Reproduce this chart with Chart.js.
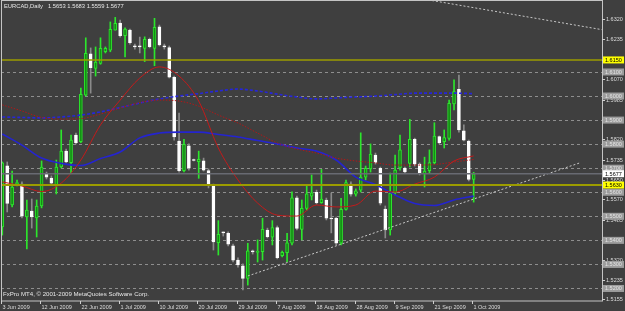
<!DOCTYPE html>
<html>
<head>
<meta charset="utf-8">
<script src="https://cdn.jsdelivr.net/npm/chart.js@4.4.1/dist/chart.umd.min.js"></script>
<style>
html, body { margin: 0; padding: 0; background: #3f3f3f; }
canvas { display: block; }
</style>
</head>
<body>
<canvas id="chart" width="625" height="311"></canvas>
<script>
// daily candles, EURCAD, 3 Jun 2009 .. 1 Oct 2009
const opens = [1.5456,1.5710,1.5547,1.5636,1.5634,1.5498,1.5522,1.5493,1.5543,1.5676,
  1.5659,1.5630,1.5705,1.5771,1.5723,1.5838,1.5810,1.6004,1.6175,1.6115,
  1.6136,1.6184,1.6191,1.6274,1.6303,1.6251,1.6274,1.6206,1.6208,1.6198,
  1.6236,1.6198,1.6288,1.6208,1.6201,1.6078,1.5813,1.5690,1.5793,1.5736,
  1.5727,1.5731,1.5690,1.5633,1.5390,1.5433,1.5429,1.5377,1.5318,1.5294,
  1.5242,1.5354,1.5350,1.5353,1.5443,1.5413,1.5453,1.5336,1.5349,1.5388,
  1.5577,1.5446,1.5533,1.5584,1.5600,1.5557,1.5568,1.5493,1.5492,1.5388,
  1.5529,1.5634,1.5592,1.5609,1.5663,1.5697,1.5755,1.5699,1.5530,1.5443,
  1.5597,1.5701,1.5701,1.5720,1.5820,1.5717,1.5676,1.5690,1.5723,1.5831,
  1.5810,1.5824,1.5967,1.6028,1.5855,1.5813,1.5653];
const highs = [1.5726,1.5726,1.5688,1.5651,1.5643,1.5568,1.5572,1.5568,1.5730,1.5684,
  1.5668,1.5734,1.5859,1.5780,1.5838,1.5846,1.6033,1.6242,1.6200,1.6204,
  1.6242,1.6204,1.6308,1.6327,1.6316,1.6283,1.6278,1.6216,1.6245,1.6246,
  1.6241,1.6323,1.6295,1.6216,1.6208,1.6083,1.5929,1.5820,1.5801,1.5738,
  1.5771,1.5742,1.5697,1.5634,1.5482,1.5435,1.5435,1.5385,1.5327,1.5302,
  1.5388,1.5360,1.5402,1.5492,1.5451,1.5482,1.5460,1.5356,1.5429,1.5602,
  1.5584,1.5568,1.5630,1.5672,1.5609,1.5695,1.5576,1.5597,1.5497,1.5575,
  1.5651,1.5643,1.5614,1.5847,1.5709,1.5801,1.5763,1.5705,1.5543,1.5680,
  1.5755,1.5838,1.5705,1.5903,1.5825,1.5722,1.5746,1.5776,1.5889,1.5834,
  1.5859,1.5983,1.6067,1.6087,1.5880,1.5817,1.5683];
const lows = [1.5422,1.5518,1.5539,1.5626,1.5493,1.5364,1.5451,1.5414,1.5535,1.5655,
  1.5630,1.5593,1.5701,1.5722,1.5680,1.5801,1.5806,1.6000,1.6012,1.6083,
  1.6132,1.6179,1.6184,1.6274,1.6245,1.6163,1.6216,1.6195,1.6179,1.6143,
  1.6200,1.6126,1.6208,1.6195,1.6075,1.5817,1.5684,1.5685,1.5692,1.5730,
  1.5658,1.5688,1.5618,1.5360,1.5339,1.5418,1.5377,1.5310,1.5289,1.5194,
  1.5214,1.5343,1.5310,1.5318,1.5410,1.5381,1.5323,1.5331,1.5311,1.5381,
  1.5443,1.5402,1.5526,1.5568,1.5551,1.5554,1.5485,1.5431,1.5381,1.5381,
  1.5526,1.5584,1.5584,1.5601,1.5651,1.5684,1.5717,1.5547,1.5410,1.5422,
  1.5589,1.5692,1.5680,1.5705,1.5709,1.5672,1.5622,1.5680,1.5717,1.5801,
  1.5784,1.5817,1.5942,1.5850,1.5813,1.5647,1.5559];
const closes = [1.5722,1.5554,1.5622,1.5638,1.5501,1.5526,1.5497,1.5543,1.5705,1.5663,
  1.5638,1.5705,1.5771,1.5726,1.5817,1.5806,1.6007,1.6177,1.6118,1.6141,
  1.6198,1.6198,1.6277,1.6302,1.6251,1.6278,1.6222,1.6204,1.6204,1.6236,
  1.6205,1.6286,1.6212,1.6204,1.6078,1.5830,1.5690,1.5799,1.5700,1.5732,
  1.5737,1.5692,1.5633,1.5394,1.5425,1.5431,1.5384,1.5318,1.5298,1.5242,
  1.5357,1.5352,1.5354,1.5446,1.5415,1.5453,1.5328,1.5350,1.5390,1.5577,
  1.5450,1.5533,1.5593,1.5598,1.5557,1.5572,1.5492,1.5489,1.5388,1.5529,
  1.5640,1.5592,1.5606,1.5663,1.5699,1.5759,1.5724,1.5555,1.5443,1.5597,
  1.5692,1.5776,1.5685,1.5820,1.5717,1.5680,1.5688,1.5723,1.5834,1.5806,
  1.5827,1.5970,1.6018,1.5859,1.5817,1.5653,1.5677];

// moving averages read every 4 bars
const maBars = [0,4,8,12,16,20,24,28,32,36,40,44,48,52,56,60,64,68,72,76,80,84,88,92,96];
const maRed = [1.5643,1.5626,1.5603,1.5638,1.5734,1.5880,1.5983,1.6075,1.6121,1.6083,
  1.5979,1.5784,1.5651,1.5555,1.5505,1.5501,1.5547,1.5539,1.5547,1.5605,
  1.5601,1.5634,1.5663,1.5730,1.5751];
const maRedDot = [1.5963,1.5938,1.5911,1.5904,1.5906,1.5925,1.5950,1.5973,1.5983,1.5979,
  1.5958,1.5921,1.5888,1.5846,1.5805,1.5780,1.5763,1.5742,1.5730,1.5722,
  1.5713,1.5713,1.5715,1.5726,1.5736];
const maBlue = [1.5842,1.5796,1.5742,1.5720,1.5711,1.5740,1.5767,1.5826,1.5846,1.5850,
  1.5850,1.5840,1.5830,1.5815,1.5801,1.5784,1.5771,1.5734,1.5663,1.5632,
  1.5589,1.5553,1.5545,1.5568,1.5584];
const maBlueDash = [1.5913,1.5911,1.5909,1.5913,1.5921,1.5934,1.5952,1.5971,1.5988,1.6000,
  1.6010,1.6021,1.6029,1.6021,1.6008,1.5996,1.5988,1.5992,1.5996,1.6000,
  1.6006,1.6012,1.6012,1.6012,1.6010];

// trend lines (bar, price)
const trendLow = [[50.0, 1.5252], [117.6, 1.5722]];
const trendHigh = [[87.5, 1.6397], [122.1, 1.6276]];

const dateBars = [0,8,16,24,32,40,48,56,64,72,80,88,96];
const dateLabels = ["3 Jun 2009","12 Jun 2009","22 Jun 2009","1 Jul 2009","10 Jul 2009",
  "20 Jul 2009","29 Jul 2009","7 Aug 2009","18 Aug 2009","28 Aug 2009",
  "9 Sep 2009","21 Sep 2009","1 Oct 2009"];
const priceTicks = [1.6320,1.6235,1.6150,1.6070,1.5985,1.5905,1.5820,1.5735,
  1.5650,1.5570,1.5485,1.5405,1.5320,1.5235,1.5155];
const levels = [1.61,1.60,1.59,1.58,1.57,1.56,1.55,1.54,1.53,1.52];
const yellowLevels = [1.6150, 1.5630];
const bidPrice = 1.5677;

const BG = "#3f3f3f";
const bars = opens.map((o, i) => i);
const isUp = bars.map(i => closes[i] >= opens[i]);

const mtPlugin = {
    id: "mt",
    beforeDraw(chart) {
        const ctx = chart.ctx;
        ctx.save();
        ctx.fillStyle = BG;
        ctx.fillRect(0, 0, chart.width, chart.height);
        ctx.restore();
    },
    beforeDatasetsDraw(chart) {
        const { ctx, chartArea: a } = chart;
        const y = chart.scales.y;
        ctx.save();
        ctx.strokeStyle = "#8e8e8e";
        ctx.lineWidth = 1;
        ctx.setLineDash([3, 3]);
        levels.forEach(v => {
            const py = Math.round(y.getPixelForValue(v)) + 0.5;
            ctx.beginPath(); ctx.moveTo(a.left, py); ctx.lineTo(a.right, py); ctx.stroke();
        });
        ctx.restore();
    },
    afterDatasetsDraw(chart) {
        const { ctx, chartArea: a } = chart;
        const x = chart.scales.x, y = chart.scales.y;
        ctx.save();
        // bid line
        ctx.strokeStyle = "#686a72";
        ctx.lineWidth = 1.5;
        let py = y.getPixelForValue(bidPrice);
        ctx.beginPath(); ctx.moveTo(a.left, py); ctx.lineTo(a.right, py); ctx.stroke();
        // yellow levels
        ctx.strokeStyle = "#9c9c00";
        yellowLevels.forEach((v, k) => {
            ctx.lineWidth = k === 0 ? 1.5 : 2;
            const p = y.getPixelForValue(v);
            ctx.beginPath(); ctx.moveTo(a.left, p); ctx.lineTo(a.right, p); ctx.stroke();
        });
        // frame
        ctx.strokeStyle = "#c4c4c4";
        ctx.lineWidth = 1;
        ctx.strokeRect(a.left + 0.5, a.top - 0.5, a.right - a.left, a.bottom - a.top + 0.5);

        // price scale
        ctx.font = "5.5px 'Liberation Sans', Arial, sans-serif";
        ctx.textBaseline = "middle";
        ctx.textAlign = "left";
        priceTicks.forEach(v => {
            const p = Math.round(y.getPixelForValue(v)) + 0.5;
            ctx.strokeStyle = "#d0d0d0";
            ctx.beginPath(); ctx.moveTo(a.right, p); ctx.lineTo(a.right + 3, p); ctx.stroke();
            ctx.fillStyle = "#dcdcdc";
            ctx.fillText(v.toFixed(4), a.right + 4, p);
        });
        const box = (v, bg, fg) => {
            const p = y.getPixelForValue(v);
            ctx.fillStyle = bg;
            ctx.fillRect(a.right + 1, p - 3.5, 21, 7);
            ctx.fillStyle = fg;
            ctx.fillText(v.toFixed(4), a.right + 3, p + 0.3);
        };
        levels.forEach(v => box(v, "#9c9c9c", "#e4e4e4"));
        box(bidPrice, "#ffffff", "#000000");
        yellowLevels.forEach(v => box(v, "#ffff00", "#000000"));

        // time scale
        dateBars.forEach((b, k) => {
            const px = Math.round(x.getPixelForValue(b) - 1.3) + 0.5;
            ctx.strokeStyle = "#d0d0d0";
            ctx.beginPath(); ctx.moveTo(px, a.bottom); ctx.lineTo(px, a.bottom + 3); ctx.stroke();
            ctx.fillStyle = "#dcdcdc";
            ctx.fillText(dateLabels[k], px + 1, a.bottom + 6);
        });

        // captions
        ctx.fillStyle = "#e6e6e6";
        ctx.font = "5.8px 'Liberation Sans', Arial, sans-serif";
        ctx.fillText("EURCAD,Daily", 4, 6.5);
        ctx.fillText("1.5653 1.5683 1.5559 1.5677", 48, 6.5);
        ctx.font = "6.1px 'Liberation Sans', Arial, sans-serif";
        ctx.fillText("FxPro MT4, \u00a9 2001-2009 MetaQuotes Software Corp.", 3, 294.5);
        ctx.restore();
    },
};

const maLine = (vals, color, width, dash) => ({
    type: "line",
    data: maBars.map((b, k) => ({ x: b, y: vals[k] })),
    borderColor: color,
    borderWidth: width,
    borderDash: dash,
    pointRadius: 0,
    cubicInterpolationMode: "monotone",
    order: 0,
});
const trend = pts => ({
    type: "line",
    data: pts.map(p => ({ x: p[0], y: p[1] })),
    borderColor: "#c8c8c8",
    borderWidth: 1,
    borderDash: [2, 2],
    pointRadius: 0,
    order: 0,
});

new Chart(document.getElementById("chart"), {
    type: "bar",
    data: {
        datasets: [
            maLine(maRed, "#c41a1a", 1, []),
            maLine(maRedDot, "#b01818", 1, [1.5, 1.5]),
            maLine(maBlue, "#2424d0", 1.6, []),
            maLine(maBlueDash, "#2626d8", 1.6, [3, 2]),
            trend(trendLow),
            trend(trendHigh),
            {
                // candle bodies
                data: bars.map(i => ({ x: i, y: [opens[i], closes[i]] })),
                backgroundColor: bars.map(i => isUp[i] ? "#158c15" : "#ffffff"),
                borderColor: bars.map(i => isUp[i] ? "#2ce62c" : "#ffffff"),
                borderWidth: 1,
                borderSkipped: false,
                barThickness: 3,
                minBarLength: 1,
                grouped: false,
                order: 1,
            },
            {
                // wicks
                data: bars.map(i => ({ x: i, y: [lows[i], highs[i]] })),
                backgroundColor: bars.map(i => isUp[i] ? "#2ce62c" : "#8a8a8a"),
                borderWidth: 0,
                barThickness: 1,
                grouped: false,
                order: 2,
            },
        ],
    },
    options: {
        responsive: false,
        animation: false,
        layout: { padding: { left: 1, right: 23, top: 1, bottom: 10 } },
        scales: {
            x: { type: "linear", min: -0.265, max: 122.14, offset: false, display: false },
            y: { type: "linear", min: 1.5148, max: 1.6395, display: false },
        },
        plugins: {
            legend: { display: false },
            tooltip: { enabled: false },
        },
    },
    plugins: [mtPlugin],
});
</script>
</body>
</html>
